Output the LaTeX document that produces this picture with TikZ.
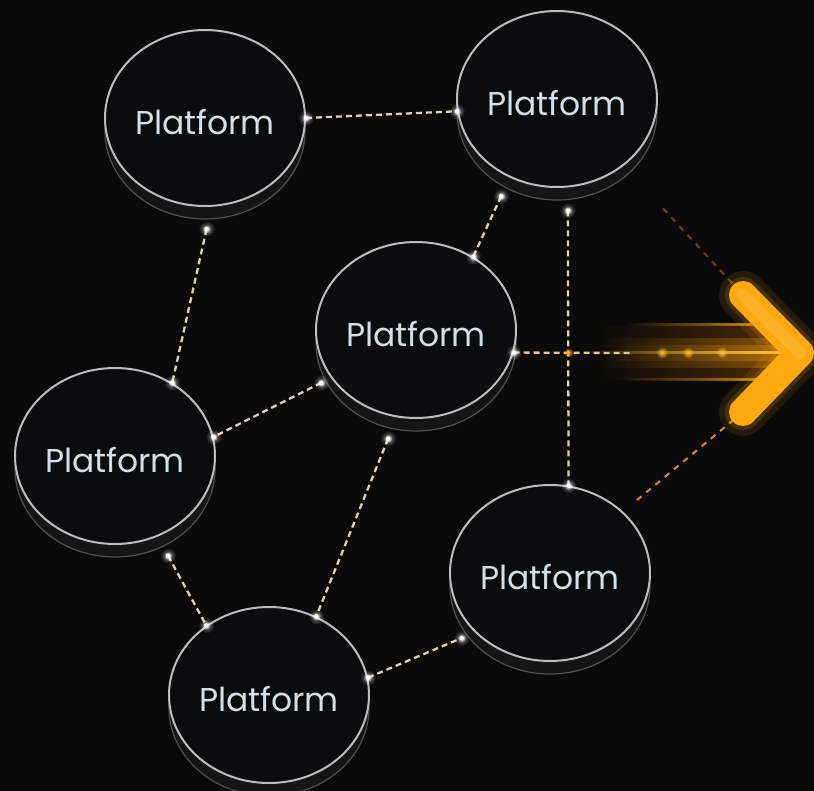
\documentclass[tikz,border=0pt]{standalone}
\usepackage{fontspec}
\setmainfont{Poppins}
\usetikzlibrary{shapes.geometric,calc,fadings,shadows}

\definecolor{bg}{HTML}{0A0A0A}
\definecolor{face}{HTML}{0C0C0E}
\definecolor{rim}{HTML}{BDBDBD}
\definecolor{basec}{HTML}{151515}
\definecolor{baserim}{HTML}{505050}
\definecolor{txt}{HTML}{D6DEEA}
\definecolor{dashc}{HTML}{DDD0BA}
\definecolor{amber}{HTML}{FFA80F}
\definecolor{amberlt}{HTML}{FFC040}
\definecolor{amberdk}{HTML}{C86400}

\tikzfading[name=glowfade, inner color=transparent!0, outer color=transparent!100]
\tikzfading[name=fromleft, left color=transparent!100, right color=transparent!0]

\newcommand\plab{\raisebox{-4pt}[\height][\depth]{Platform}}

\tikzset{
  platform/.style={ellipse, minimum width=200pt, minimum height=176pt, inner sep=0pt,
    fill=face, draw=rim, line width=2pt, text=txt, font=\fontsize{33}{38}\selectfont,
    drop shadow={shadow xshift=0pt, shadow yshift=-13pt, opacity=1, fill=basec, draw=baserim, line width=1.2pt}},
  link/.style={draw=dashc, line width=2.3pt, dash pattern=on 6pt off 4pt},
  orangelink/.style={draw=amber!85!black, line width=2pt, dash pattern=on 6pt off 6pt},
  glowdot/.style={fill=white, path fading=glowfade, opacity=.5},
  chevron/.style={line cap=round, line join=round}
}

\begin{document}
\begin{tikzpicture}[x=1pt, y=-1pt]
\useasboundingbox (0,0) rectangle (814,791);
\fill[bg] (0,0) rectangle (814,791);

% platforms
\node[platform] (n1) at (205,118) {\plab};
\node[platform] (n2) at (557,99) {\plab};
\node[platform] (n3) at (416,330) {\plab};
\node[platform] (n4) at (115,456) {\plab};
\node[platform] (n5) at (550,573) {\plab};
\node[platform] (n6) at (269,695) {\plab};

% connector end points
\coordinate (e12a) at (n1.0);
\coordinate (e12b) at (n2.187);
\coordinate (e14a) at ($(n1.-89)+(0,22)$);
\coordinate (e14b) at (n4.52);
\coordinate (e23a) at ($(n2.233)+(0,23)$);
\coordinate (e23b) at (n3.52);
\coordinate (e25a) at ($(n2.-83)+(0,23)$);
\coordinate (e25b) at (n5.78);
\coordinate (e34a) at ($(n3.198)+(0,22)$);
\coordinate (e34b) at (n4.11);
\coordinate (e36a) at ($(n3.252)+(0,23)$);
\coordinate (e36b) at (n6.59);
\coordinate (e46a) at ($(n4.-55)+(0,24)$);
\coordinate (e46b) at (n6.132);
\coordinate (e65a) at (n6.10);
\coordinate (e65b) at ($(n5.206)+(0,22)$);
\coordinate (e3x) at (n3.-13);
\coordinate (e5x) at (n5.40);
\coordinate (e2x) at (n2.-45);

% arrow geometry
\coordinate (atop) at (743,295);
\coordinate (atip) at (800,353);
\coordinate (abot) at (743,412);
\coordinate (hend) at (630,353);

% glow band behind the arrow
\fill[amberdk, path fading=fromleft, opacity=.35] (595,326) rectangle (780,380);
\fill[amber, path fading=fromleft, opacity=.30] (600,338) rectangle (780,368);
\fill[amber, path fading=fromleft, opacity=.30] (600,345) rectangle (780,361);
\fill[amberlt, path fading=fromleft] (585,351) rectangle (785,354.5);
\fill[amber, path fading=fromleft, opacity=.8] (625,323.5) rectangle (765,326.5);
\fill[amber, path fading=fromleft, opacity=.7] (620,378.5) rectangle (765,381.5);
\foreach \px in {662,688,722} {
  \fill[amberlt, path fading=glowfade] (\px,352.5) circle (6pt);
}

% connectors
\draw[link] (e12a) -- (e12b);
\draw[link] (e14a) -- (e14b);
\draw[link] (e23a) -- (e23b);
\draw[link] (e25a) -- (e25b);
\draw[link] (e34a) -- (e34b);
\draw[link] (e36a) -- (e36b);
\draw[link] (e46a) -- (e46b);
\draw[link] (e65a) -- (e65b);
\draw[link, draw=dashc!75!amber] (e3x) -- (hend);
\draw[orangelink, shorten <=18pt] (e5x) -- (abot);
\draw[orangelink, opacity=.45, shorten <=58pt] (e2x) -- (atop);

% glowing joints
\foreach \c in {e12a,e12b,e14a,e14b,e23a,e23b,e25a,e25b,e34a,e34b,e36a,e36b,e46a,e46b,e65a,e65b,e3x} {
  \fill[glowdot] (\c) circle (8pt);
  \fill[white, path fading=glowfade] (\c) circle (4.5pt);
  \fill[white] (\c) circle (2.2pt);
}
\fill[amber, path fading=glowfade] (568.5,352.5) circle (5pt);

% arrow
\draw[amber, chevron, line width=48pt, opacity=.10] (atop) -- (atip) -- (abot);
\draw[amber, chevron, line width=36pt, opacity=.16] (atop) -- (atip) -- (abot);
\draw[amber, chevron, line width=28pt] (atop) -- (atip) -- (abot);
\draw[amberlt, chevron, line width=12pt, opacity=.45] (atop) -- (atip);
\end{tikzpicture}
\end{document}
